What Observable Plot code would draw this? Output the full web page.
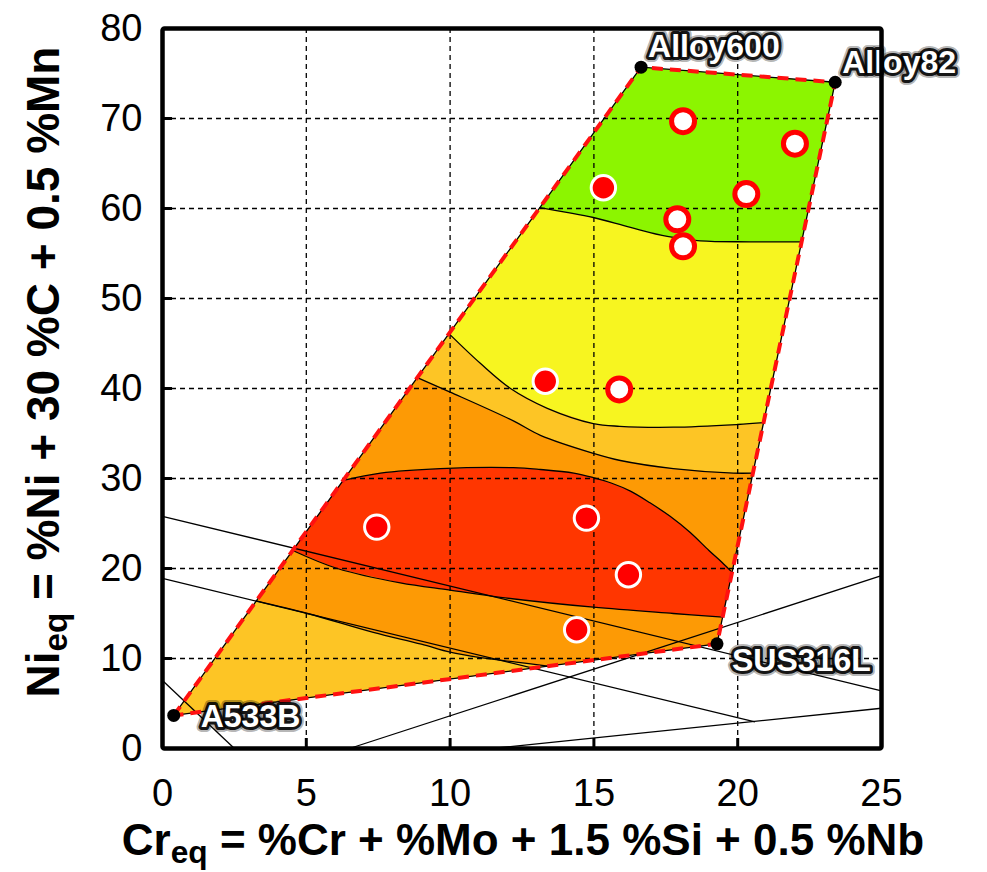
<!DOCTYPE html>
<html><head><meta charset="utf-8">
<script src="https://cdn.jsdelivr.net/npm/d3@7"></script>
<script src="https://cdn.jsdelivr.net/npm/@observablehq/plot@0.6"></script>
<style>
html,body{margin:0;padding:0;background:#fff;overflow:hidden}
#wrap{position:relative;width:987px;height:872px;font-family:"Liberation Sans",Arial,sans-serif}
#wrap svg{position:absolute;left:0;top:0}
.title{position:absolute;font-weight:bold;white-space:nowrap;color:#000;line-height:44px}
.title sub{font-size:0.72em;vertical-align:-0.25em;line-height:0}
#xt{left:523px;top:818px;font-size:44px;transform:translateX(-50%)}
#yt{left:43px;top:372px;font-size:46px;transform:translate(-50%,-50%) rotate(-90deg)}
</style></head><body><div id="wrap"></div>
<script>
// ---- data ----
const vertexName = ["A533B", "Alloy600", "Alloy82", "SUS316L"];
const vertexCr = [0.39, 16.64, 23.39, 19.28];
const vertexNi = [3.67, 75.7, 74.03, 11.63];

const greenCr = [13.12, 14.0, 14.98, 16.27, 17.55, 18.7, 20.44, 22.22];
const greenNi = [60.1, 59.6, 59.0, 57.9, 56.9, 56.4, 56.3, 56.3];

const yellowCr = [9.96, 11.05, 12.1, 13.38, 14.98, 15.9, 17.76, 19.99, 20.90];
const yellowNi = [46.1, 42.8, 40.0, 37.8, 36.1, 35.8, 35.7, 36.0, 36.2];

const orangeCr = [8.86, 10.0, 12.2, 13.14, 14.98, 15.92, 17.76, 19.85, 20.53];
const orangeNi = [41.2, 39.6, 36.4, 34.8, 32.8, 32.0, 31.1, 30.6, 30.6];

const redTopCr = [6.29, 7.58, 9.66, 12.2, 13.14, 14.3, 14.98, 15.6, 16.27, 16.95, 17.65, 18.35, 19.0, 19.45, 19.80];
const redTopNi = [29.8, 30.6, 31.1, 31.2, 31.0, 30.6, 30.1, 29.5, 28.6, 27.3, 25.8, 24.0, 22.0, 20.7, 19.6];

const redBottomCr = [4.53, 6.08, 8.27, 10.0, 11.75, 14.98, 17.76, 19.48];
const redBottomNi = [22.0, 20.0, 18.4, 17.6, 16.8, 15.7, 15.0, 14.6];

const lowCr = [3.26, 5.04, 7.33, 9.0, 10.0, 11.05, 12.3, 13.4];
const lowNi = [16.4, 15.0, 12.9, 11.6, 10.7, 10.1, 9.6, 9.15];

const refStartCr = [0, 0, 6.5, 0, 11.44];
const refStartNi = [25.8, 18.9, 0, 7.55, 0];
const refEndCr = [25, 20.6, 25, 2.5, 25];
const refEndNi = [6.4, 2.95, 19.2, 0, 4.47];

const openCr = [18.1, 21.99, 20.3, 17.9, 18.1, 15.88];
const openNi = [69.7, 67.2, 61.6, 58.8, 55.8, 39.9];
const filledCr = [15.33, 13.31, 7.45, 14.74, 16.2, 14.4];
const filledNi = [62.3, 40.8, 24.6, 25.6, 19.3, 13.2];

const xTickLabels = [0, 5, 10, 15, 20, 25];
const yTickLabels = [0, 10, 20, 30, 40, 50, 60, 70, 80];
const xGrid = [5, 10, 15, 20];
const yGrid = [10, 20, 30, 40, 50, 60, 70];

// ---- build tables ----
const pts = (xs, ys) => xs.map((x, i) => ({x, y: ys[i]}));
const V = vertexName.map((name, i) => ({name, x: vertexCr[i], y: vertexNi[i]}));
const vA = V[0], v600 = V[1], v82 = V[2], v316 = V[3];
const quad = [vA, v600, v82, v316, vA];
const green = pts(greenCr, greenNi);
const yellow = pts(yellowCr, yellowNi);
const orange = pts(orangeCr, orangeNi);
const redTop = pts(redTopCr, redTopNi);
const redBottom = pts(redBottomCr, redBottomNi);
const low = pts(lowCr, lowNi);
const refLines = refStartCr.map((x1, i) => ({x1, y1: refStartNi[i], x2: refEndCr[i], y2: refEndNi[i]}));
const openPts = pts(openCr, openNi);
const filledPts = pts(filledCr, filledNi);

const fillOrangeAll = quad;
const fillDark = [...orange, v316, vA];
const fillLow = [vA, ...low];
const fillRed = [...redTop, ...redBottom.slice().reverse()];
const fillYellow = [...yellow, v82, v600];
const fillGreen = [...green, v82, v600];

const poly = (d, color) => Plot.line(d, {x: "x", y: "y", fill: color, stroke: "none"});
const curveLine = (d) => Plot.line(d, {x: "x", y: "y", stroke: "#000", strokeWidth: 1.3, curve: "catmull-rom"});

const labelOpts = {
  A533B: {dx: 27, dy: 12},
  Alloy600: {dx: 7, dy: -10},
  Alloy82: {dx: 7, dy: -9},
  SUS316L: {dx: 15, dy: 27}
};
const labelMarks = [];
for (const v of V) {
  const o = labelOpts[v.name];
  const base = {x: "x", y: "y", text: "name", textAnchor: "start", lineAnchor: "bottom",
    fontWeight: "bold", fontSize: 32, dx: o.dx, dy: o.dy, fill: "#fff"};
  labelMarks.push(Plot.text([v], {...base, stroke: "#000", strokeWidth: 10, strokeOpacity: 0.3, strokeLinejoin: "round"}));
  labelMarks.push(Plot.text([v], {...base, stroke: "#000", strokeWidth: 6, strokeOpacity: 0.9, strokeLinejoin: "round"}));
}

const chart = Plot.plot({
  width: 987, height: 872,
  marginLeft: 162, marginRight: 106, marginTop: 28, marginBottom: 124,
  x: {domain: [0, 25]},
  y: {domain: [0, 80]},
  style: {fontFamily: '"Liberation Sans", Arial, sans-serif', fontSize: "38px", color: "#000", background: "transparent", overflow: "visible"},
  marks: [
    poly(fillOrangeAll, "#fdc525"),
    poly(fillDark, "#fd9a05"),
    poly(fillLow, "#fdc525"),
    poly(fillRed, "#ff3600"),
    poly(fillYellow, "#f7f520"),
    poly(fillGreen, "#8cf500"),
    Plot.gridX(xGrid, {stroke: "#000", strokeOpacity: 1, strokeWidth: 1.3, strokeDasharray: "5,4"}),
    Plot.gridY(yGrid, {stroke: "#000", strokeOpacity: 1, strokeWidth: 1.3, strokeDasharray: "5,4"}),
    Plot.link(refLines, {x1: "x1", y1: "y1", x2: "x2", y2: "y2", stroke: "#000", strokeWidth: 1.3}),
    curveLine(green), curveLine(yellow), curveLine(orange), curveLine(redTop), curveLine(redBottom), curveLine(low),
    Plot.line(quad, {x: "x", y: "y", stroke: "#000", strokeWidth: 1.3}),
    Plot.line(quad, {x: "x", y: "y", stroke: "#ff1010", strokeWidth: 4, strokeDasharray: "11,7", strokeLinecap: "butt"}),
    Plot.dot(openPts, {x: "x", y: "y", r: 11.5, fill: "#fff", stroke: "#ff0000", strokeWidth: 5}),
    Plot.dot(filledPts, {x: "x", y: "y", r: 12.2, fill: "#ff0000", stroke: "#fff", strokeWidth: 3}),
    Plot.dot(V, {x: "x", y: "y", r: 6.5, fill: "#000"}),
    ...labelMarks,
    Plot.frame({stroke: "#000", strokeWidth: 4.5, rx: 2}),
    Plot.axisX(xGrid, {tickSize: 10, dy: -10, strokeWidth: 3, tickFormat: () => "", label: null}),
    Plot.axisY(yGrid, {tickSize: 10, dx: 10, strokeWidth: 3, tickFormat: () => "", label: null}),
    Plot.axisX(xTickLabels, {tickSize: 0, tickPadding: 31, fontSize: 38, label: null}),
    Plot.axisY(yTickLabels, {tickSize: 0, tickPadding: 20, fontSize: 38, label: null})
  ]
});
const wrap = document.getElementById("wrap");
wrap.appendChild(chart);
const xt = document.createElement("div");
xt.id = "xt"; xt.className = "title";
xt.innerHTML = "Cr<sub>eq</sub> = %Cr + %Mo + 1.5 %Si + 0.5 %Nb";
wrap.appendChild(xt);
const yt = document.createElement("div");
yt.id = "yt"; yt.className = "title";
yt.innerHTML = "Ni<sub>eq</sub> = %Ni + 30 %C + 0.5 %Mn";
wrap.appendChild(yt);
</script></body></html>
